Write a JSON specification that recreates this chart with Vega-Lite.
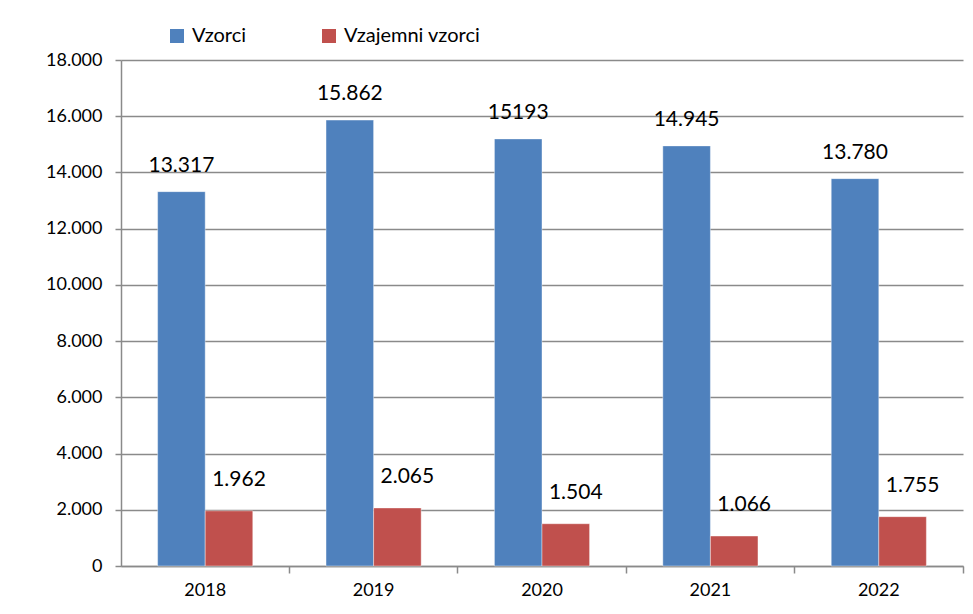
{
  "$schema": "https://vega.github.io/schema/vega-lite/v6.json",
  "width": 842,
  "height": 506,
  "autosize": {"type": "none"},
  "padding": {"left": 121, "top": 60, "right": 10, "bottom": 48},
  "background": "white",
  "config": {
    "locale": {"number": {"decimal": ",", "thousands": ".", "grouping": [3], "currency": ["", " €"]}},
    "view": {"stroke": null},
    "font": "Lato",
    "axis": {"labelFont": "Lato", "labelColor": "#000000", "labelFontSize": 18, "gridColor": "#8a8a8a", "gridWidth": 1.5, "domainColor": "#8a8a8a", "domainWidth": 1.5, "tickColor": "#8a8a8a", "tickWidth": 1.5}
  },
  "data": {
    "values": [
      {"year": "2018", "series": "Vzorci", "value": 13317, "label": "13.317"},
      {"year": "2018", "series": "Vzajemni vzorci", "value": 1962, "label": "1.962"},
      {"year": "2019", "series": "Vzorci", "value": 15862, "label": "15.862"},
      {"year": "2019", "series": "Vzajemni vzorci", "value": 2065, "label": "2.065"},
      {"year": "2020", "series": "Vzorci", "value": 15193, "label": "15193"},
      {"year": "2020", "series": "Vzajemni vzorci", "value": 1504, "label": "1.504"},
      {"year": "2021", "series": "Vzorci", "value": 14945, "label": "14.945"},
      {"year": "2021", "series": "Vzajemni vzorci", "value": 1066, "label": "1.066"},
      {"year": "2022", "series": "Vzorci", "value": 13780, "label": "13.780"},
      {"year": "2022", "series": "Vzajemni vzorci", "value": 1755, "label": "1.755"}
    ]
  },
  "encoding": {
    "x": {
      "field": "year", "type": "nominal", "title": null,
      "scale": {"paddingInner": 0.435, "paddingOuter": 0.2175},
      "axis": {"labelAngle": 0, "bandPosition": 1.385, "tickExtra": false, "tickSize": 7, "labelPadding": 8, "grid": false}
    },
    "xOffset": {"field": "series", "type": "nominal", "sort": ["Vzorci", "Vzajemni vzorci"]},
    "y": {
      "field": "value", "type": "quantitative", "title": null,
      "scale": {"domain": [0, 18000], "nice": false},
      "axis": {"values": [0, 2000, 4000, 6000, 8000, 10000, 12000, 14000, 16000, 18000], "format": ",d", "tickSize": 6, "labelPadding": 13, "grid": true}
    }
  },
  "layer": [
    {
      "mark": {"type": "bar", "stroke": "#ffffff", "strokeOpacity": 0.4, "strokeWidth": 1},
      "encoding": {
        "color": {
          "field": "series", "type": "nominal",
          "sort": ["Vzorci", "Vzajemni vzorci"],
          "scale": {"domain": ["Vzorci", "Vzajemni vzorci"], "range": ["#4F81BD", "#C0504D"]},
          "legend": {
            "title": null, "orient": "none", "direction": "horizontal",
            "legendX": 46, "legendY": -34, "padding": 0,
            "symbolType": "square", "symbolSize": 196, "symbolStrokeWidth": 0,
            "labelFont": "Lato", "labelFontSize": 20, "labelColor": "#000000",
            "labelOffset": 5, "columnPadding": 72
          }
        }
      }
    },
    {
      "transform": [{"filter": "datum.series === 'Vzorci'"}],
      "mark": {"type": "text", "baseline": "middle", "align": "center", "dy": -26, "fontSize": 21, "font": "Lato", "color": "#000000"},
      "encoding": {"text": {"field": "label"}}
    },
    {
      "transform": [{"filter": "datum.series === 'Vzajemni vzorci'"}],
      "mark": {"type": "text", "baseline": "middle", "align": "center", "dy": -31, "dx": 10, "fontSize": 21, "font": "Lato", "color": "#000000"},
      "encoding": {"text": {"field": "label"}}
    }
  ]
}
